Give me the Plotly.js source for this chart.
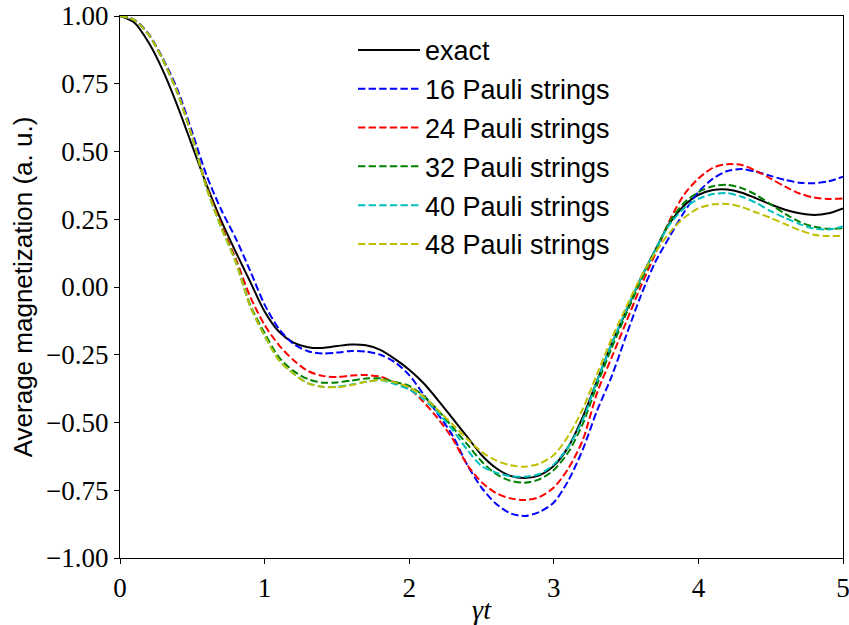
<!DOCTYPE html>
<html>
<head>
<meta charset="utf-8">
<script src="https://cdn.plot.ly/plotly-3.0.1.min.js"></script>
<style>html,body{margin:0;padding:0;background:#fff;}#chart{width:849px;height:625px;}</style>
</head>
<body>
<div id="chart"></div>
<script>
const t = [0.0,0.1,0.2,0.3,0.4,0.5,0.6,0.7,0.8,0.9,1.0,1.1,1.2,1.3,1.4,1.5,1.6,1.7,1.8,1.9,2.0,2.1,2.2,2.3,2.4,2.5,2.6,2.7,2.8,2.9,3.0,3.1,3.2,3.3,3.4,3.5,3.6,3.7,3.8,3.9,4.0,4.1,4.2,4.3,4.4,4.5,4.6,4.7,4.8,4.9,5.0];

const exact = [1.000,0.975,0.900,0.795,0.665,0.520,0.375,0.245,0.130,0.020,-0.090,-0.165,-0.205,-0.222,-0.225,-0.218,-0.212,-0.215,-0.232,-0.265,-0.305,-0.355,-0.418,-0.485,-0.552,-0.620,-0.668,-0.697,-0.705,-0.695,-0.660,-0.590,-0.480,-0.345,-0.210,-0.090,0.030,0.135,0.235,0.300,0.340,0.358,0.360,0.348,0.327,0.305,0.285,0.272,0.266,0.272,0.290];

const p16 = [1.000,0.986,0.932,0.840,0.725,0.570,0.410,0.285,0.180,0.060,-0.065,-0.155,-0.210,-0.237,-0.245,-0.242,-0.236,-0.238,-0.250,-0.277,-0.325,-0.397,-0.470,-0.548,-0.655,-0.740,-0.800,-0.835,-0.845,-0.830,-0.795,-0.715,-0.600,-0.455,-0.330,-0.180,-0.035,0.090,0.185,0.275,0.350,0.400,0.428,0.435,0.425,0.410,0.395,0.385,0.383,0.390,0.407];

const p24 = [1.000,0.985,0.930,0.835,0.715,0.555,0.370,0.230,0.105,-0.035,-0.140,-0.215,-0.270,-0.310,-0.328,-0.332,-0.327,-0.325,-0.331,-0.352,-0.375,-0.425,-0.486,-0.560,-0.655,-0.720,-0.760,-0.780,-0.786,-0.775,-0.740,-0.670,-0.565,-0.390,-0.260,-0.130,0.000,0.120,0.245,0.340,0.400,0.440,0.453,0.450,0.428,0.400,0.370,0.345,0.330,0.325,0.327];

const p32 = [1.000,0.985,0.930,0.835,0.713,0.552,0.365,0.222,0.097,-0.065,-0.170,-0.260,-0.310,-0.340,-0.353,-0.352,-0.345,-0.338,-0.337,-0.350,-0.365,-0.402,-0.455,-0.517,-0.580,-0.643,-0.690,-0.715,-0.722,-0.710,-0.675,-0.610,-0.505,-0.360,-0.225,-0.100,0.020,0.130,0.240,0.310,0.350,0.372,0.377,0.365,0.340,0.305,0.270,0.240,0.222,0.215,0.217];

const p40 = [1.000,0.985,0.930,0.835,0.713,0.552,0.362,0.220,0.093,-0.070,-0.180,-0.270,-0.320,-0.355,-0.368,-0.368,-0.360,-0.350,-0.343,-0.358,-0.378,-0.415,-0.465,-0.527,-0.600,-0.660,-0.685,-0.698,-0.700,-0.690,-0.655,-0.590,-0.490,-0.345,-0.210,-0.085,0.030,0.135,0.230,0.290,0.325,0.343,0.346,0.333,0.310,0.280,0.255,0.232,0.215,0.212,0.223];

const p48 = [1.000,0.985,0.930,0.835,0.713,0.552,0.362,0.220,0.093,-0.070,-0.180,-0.270,-0.320,-0.355,-0.368,-0.370,-0.362,-0.350,-0.343,-0.352,-0.370,-0.405,-0.455,-0.507,-0.560,-0.608,-0.640,-0.658,-0.663,-0.652,-0.620,-0.550,-0.450,-0.320,-0.190,-0.075,0.035,0.125,0.200,0.255,0.290,0.305,0.306,0.295,0.275,0.255,0.232,0.210,0.193,0.188,0.190];

const seriesNames = ['exact','16 Pauli strings','24 Pauli strings','32 Pauli strings','40 Pauli strings','48 Pauli strings'];
const seriesValues = [exact,p16,p24,p32,p40,p48];
const seriesColors = ['#000000','#0000ff','#ff0000','#008000','#00bfbf','#bfbf00'];

const yTicks = [1.0,0.75,0.5,0.25,0.0,-0.25,-0.5,-0.75,-1.0];
const xTicks = [0,1,2,3,4,5];

const traces = seriesValues.map((v,i) => ({
  x: t, y: v, type: 'scatter', mode: 'lines', name: seriesNames[i],
  legendgroup: 'g'+i,
  line: {color: seriesColors[i], width: 2, shape: 'spline', smoothing: 0.8,
         dash: i === 0 ? 'solid' : '7.4px,3.2px'}
}));

const serif = '"Liberation Serif", "Times New Roman", Times, serif';
const sans = '"Liberation Sans", Arial, Helvetica, sans-serif';
const tickFont = {family: serif, size: 27, color: '#000'};

const layout = {
  width: 849, height: 625,
  margin: {l: 120, r: 6, t: 16, b: 67},
  paper_bgcolor: '#fff', plot_bgcolor: '#fff',
  font: {family: sans, color: '#000'},
  showlegend: true,
  legend: {
    x: 0.3223, y: 0.9817, xanchor: 'left', yanchor: 'top',
    bgcolor: 'rgba(0,0,0,0)', borderwidth: 0,
    font: {family: sans, size: 27, color: '#000'},
    tracegroupgap: 0.7, itemwidth: 62
  },
  xaxis: {
    range: [0,5], tickvals: xTicks, ticktext: xTicks.map(String),
    ticks: 'outside', ticklen: 5, tickwidth: 1, tickcolor: '#000',
    ticklabeloverflow: 'allow',
    showline: true, mirror: true, linecolor: '#000', linewidth: 1.2,
    showgrid: false, zeroline: false, tickfont: tickFont,
    title: {text: '<i>γt</i>', font: {family: serif, size: 28, color: '#000'}, standoff: 4}
  },
  yaxis: {
    range: [-1,1], tickvals: yTicks, tickformat: '.2f',
    ticks: 'outside', ticklen: 5, tickwidth: 1, tickcolor: '#000',
    showline: true, mirror: true, linecolor: '#000', linewidth: 1.2,
    showgrid: false, zeroline: false, tickfont: tickFont,
    title: {text: 'Average magnetization (a. u.)', font: {family: sans, size: 26, color: '#000'}, standoff: 5}
  }
};

Plotly.newPlot('chart', traces, layout, {displayModeBar: false, staticPlot: true});
</script>
</body>
</html>
